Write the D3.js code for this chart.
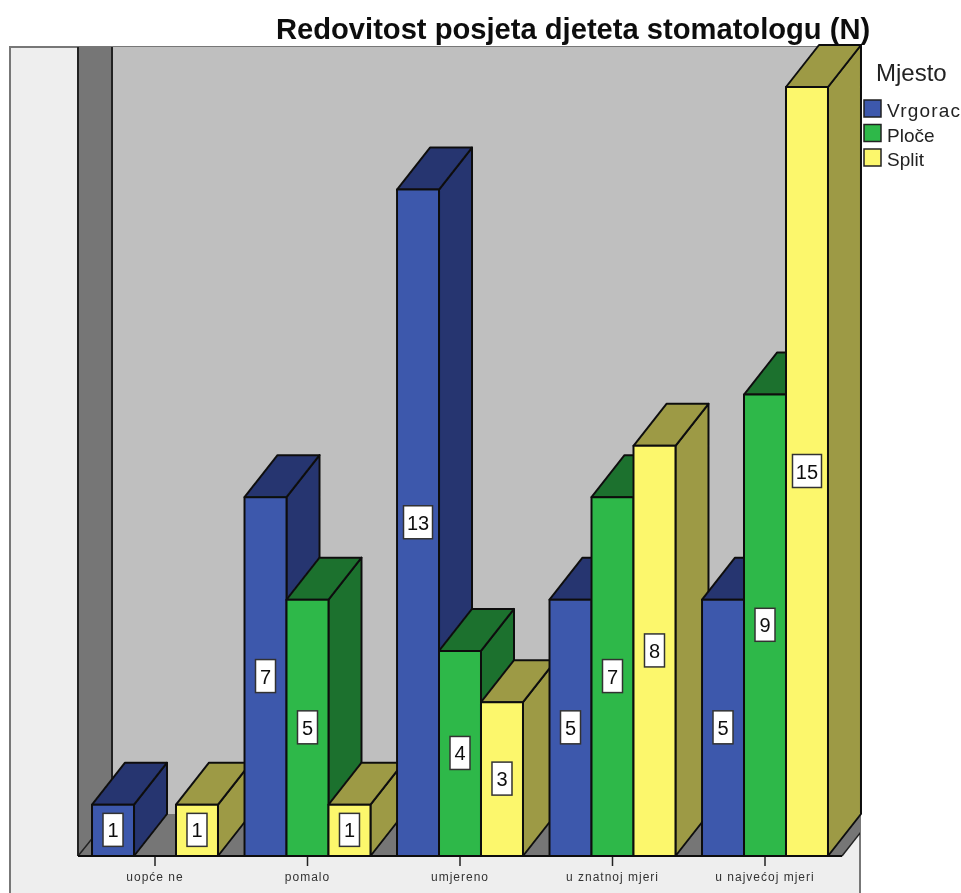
<!DOCTYPE html>
<html>
<head>
<meta charset="utf-8">
<script src="https://cdn.jsdelivr.net/npm/d3@7"></script>
<style>
  body { margin: 0; background: #fff; }
  svg { display: block; }
  text { font-family: "Liberation Sans", Arial, sans-serif; }
</style>
</head>
<body>
<svg width="961" height="893"></svg>
<script>
const categories = ["uopće ne", "pomalo", "umjereno", "u znatnoj mjeri", "u najvećoj mjeri"];
const seriesNames = ["Vrgorac", "Ploče", "Split"];
const vrgorac = [1, 7, 13, 5, 5];
const ploce = [0, 5, 4, 7, 9];
const split = [1, 1, 3, 8, 15];
const seriesValues = [vrgorac, ploce, split];

const frontColors = ["#3e58ac", "#2eb848", "#fcf76c"];
const darkColors = ["#26346f", "#1c712f", "#9d9a45"];

const svg = d3.select("svg");

// soft edges, the reference is an upscaled bitmap
svg.append("defs").append("filter")
   .attr("id", "soft")
   .attr("filterUnits", "userSpaceOnUse")
   .attr("x", 0).attr("y", 0).attr("width", 961).attr("height", 893)
   .append("feGaussianBlur")
   .attr("stdDeviation", 0.6);

svg.append("clipPath").attr("id", "frame")
   .append("rect")
   .attr("x", 10).attr("y", 47).attr("width", 850).attr("height", 846);

const root = svg.append("g").attr("filter", "url(#soft)");

const x = d3.scaleBand()
   .domain(categories)
   .range([78.75, 841.25])
   .paddingInner(0.174)
   .paddingOuter(0.087);

const xInner = d3.scaleBand()
   .domain(seriesNames)
   .range([0, x.bandwidth()]);

const y = d3.scaleLinear()
   .domain([0, 15])
   .range([856, 87]);

// 3d offset of the box depth
const dx = 33;
const dy = -42;

const floorY = y(0);
const wallLeft = x.range()[0] - 0.75;
const wallBack = wallLeft + 34;
const floorRight = x.range()[1] + 0.75;
const wallTop = 47;

// outer panel
root.append("rect")
   .attr("x", 10).attr("y", 47)
   .attr("width", 850).attr("height", 860)
   .attr("fill", "#eeeeee")
   .attr("stroke", "#777")
   .attr("stroke-width", 2);

const walls = root.append("g").attr("clip-path", "url(#frame)");

// back wall
walls.append("rect")
   .attr("x", wallBack).attr("y", wallTop)
   .attr("width", 760).attr("height", floorY + dy - wallTop)
   .attr("fill", "#bfbfbf");

// left wall
walls.append("path")
   .attr("d", d3.line()([
     [wallLeft, wallTop], [wallBack, wallTop],
     [wallBack, floorY + dy], [wallLeft, floorY]
   ]) + "Z")
   .attr("fill", "#767676");

walls.append("line")
   .attr("x1", wallLeft).attr("x2", wallLeft)
   .attr("y1", wallTop).attr("y2", floorY)
   .attr("stroke", "#222").attr("stroke-width", 2);

walls.append("line")
   .attr("x1", wallBack).attr("x2", wallBack)
   .attr("y1", wallTop).attr("y2", floorY + dy)
   .attr("stroke", "#222").attr("stroke-width", 2);

// floor, only the two diagonals carry an outline
walls.append("path")
   .attr("d", d3.line()([
     [wallLeft, floorY], [floorRight, floorY],
     [floorRight + dx, floorY + dy], [wallBack, floorY + dy]
   ]) + "Z")
   .attr("fill", "#767676");

[[wallLeft, wallBack], [floorRight, floorRight + dx]].forEach(d => {
  walls.append("line")
    .attr("x1", d[0]).attr("x2", d[1])
    .attr("y1", floorY).attr("y2", floorY + dy)
    .attr("stroke", "#222").attr("stroke-width", 1.5);
});

// bars, painted left to right so each front covers the previous side
const bars = root.append("g").attr("stroke", "#111").attr("stroke-width", 2).attr("stroke-linejoin", "round");
const labels = [];

categories.forEach((cat, i) => {
  seriesNames.forEach((name, s) => {
    const v = seriesValues[s][i];
    if (v === 0) return;
    const x0 = x(cat) + xInner(name);
    const w = xInner.bandwidth();
    const top = y(v);

    // side face
    bars.append("path")
      .attr("d", d3.line()([
        [x0 + w, top], [x0 + w + dx, top + dy],
        [x0 + w + dx, floorY + dy], [x0 + w, floorY]
      ]) + "Z")
      .attr("fill", darkColors[s]);

    // top face
    bars.append("path")
      .attr("d", d3.line()([
        [x0, top], [x0 + dx, top + dy],
        [x0 + w + dx, top + dy], [x0 + w, top]
      ]) + "Z")
      .attr("fill", darkColors[s]);

    // front face
    bars.append("rect")
      .attr("x", x0).attr("y", top)
      .attr("width", w).attr("height", floorY - top)
      .attr("fill", frontColors[s]);

    labels.push({ v: v, cx: x0 + w / 2, cy: (top + floorY) / 2 });
  });
});

// value labels
const labelG = root.append("g");
labels.forEach(d => {
  const boxW = d.v >= 10 ? 29 : 20;
  labelG.append("rect")
    .attr("x", d.cx - boxW / 2).attr("y", d.cy - 17)
    .attr("width", boxW).attr("height", 33)
    .attr("fill", "#fff")
    .attr("stroke", "#333")
    .attr("stroke-width", 1.5);
  labelG.append("text")
    .attr("x", d.cx).attr("y", d.cy + 7)
    .attr("text-anchor", "middle")
    .attr("font-size", 20)
    .attr("fill", "#111")
    .text(d.v);
});

// category axis
const xAxis = d3.axisBottom(x).tickSize(10).tickSizeOuter(0);
const axisG = root.append("g")
   .attr("transform", `translate(0,${floorY})`)
   .call(xAxis);
axisG.select(".domain").remove();
axisG.selectAll("line").attr("stroke", "#222").attr("stroke-width", 1.5);
axisG.selectAll("text")
   .attr("font-size", 12)
   .attr("letter-spacing", 1)
   .attr("fill", "#333")
   .attr("dy", "0.9em")
   .attr("y", 14);

root.append("line")
   .attr("x1", wallLeft).attr("x2", floorRight)
   .attr("y1", floorY).attr("y2", floorY)
   .attr("stroke", "#111").attr("stroke-width", 2);

// title
root.append("text")
   .attr("x", 276).attr("y", 39)
   .attr("font-size", 29.15)
   .attr("font-weight", "bold")
   .attr("fill", "#111")
   .text("Redovitost posjeta djeteta stomatologu (N)");

// legend
root.append("text")
   .attr("x", 876).attr("y", 81)
   .attr("font-size", 24)
   .attr("fill", "#222")
   .text("Mjesto");

const legendY = d3.scalePoint().domain(seriesNames).range([109, 158]);

seriesNames.forEach((name, s) => {
  root.append("rect")
    .attr("x", 864).attr("y", legendY(name) - 9)
    .attr("width", 17).attr("height", 17)
    .attr("fill", frontColors[s])
    .attr("stroke", "#222")
    .attr("stroke-width", 1.5);
  const t = root.append("text")
    .attr("x", 887).attr("y", legendY(name) + 8)
    .attr("font-size", 19)
    .attr("fill", "#222")
    .text(name);
  // the hinted bitmap text runs wider for this one label
  if (name === "Vrgorac") t.attr("textLength", 73);
});
</script>
</body>
</html>
